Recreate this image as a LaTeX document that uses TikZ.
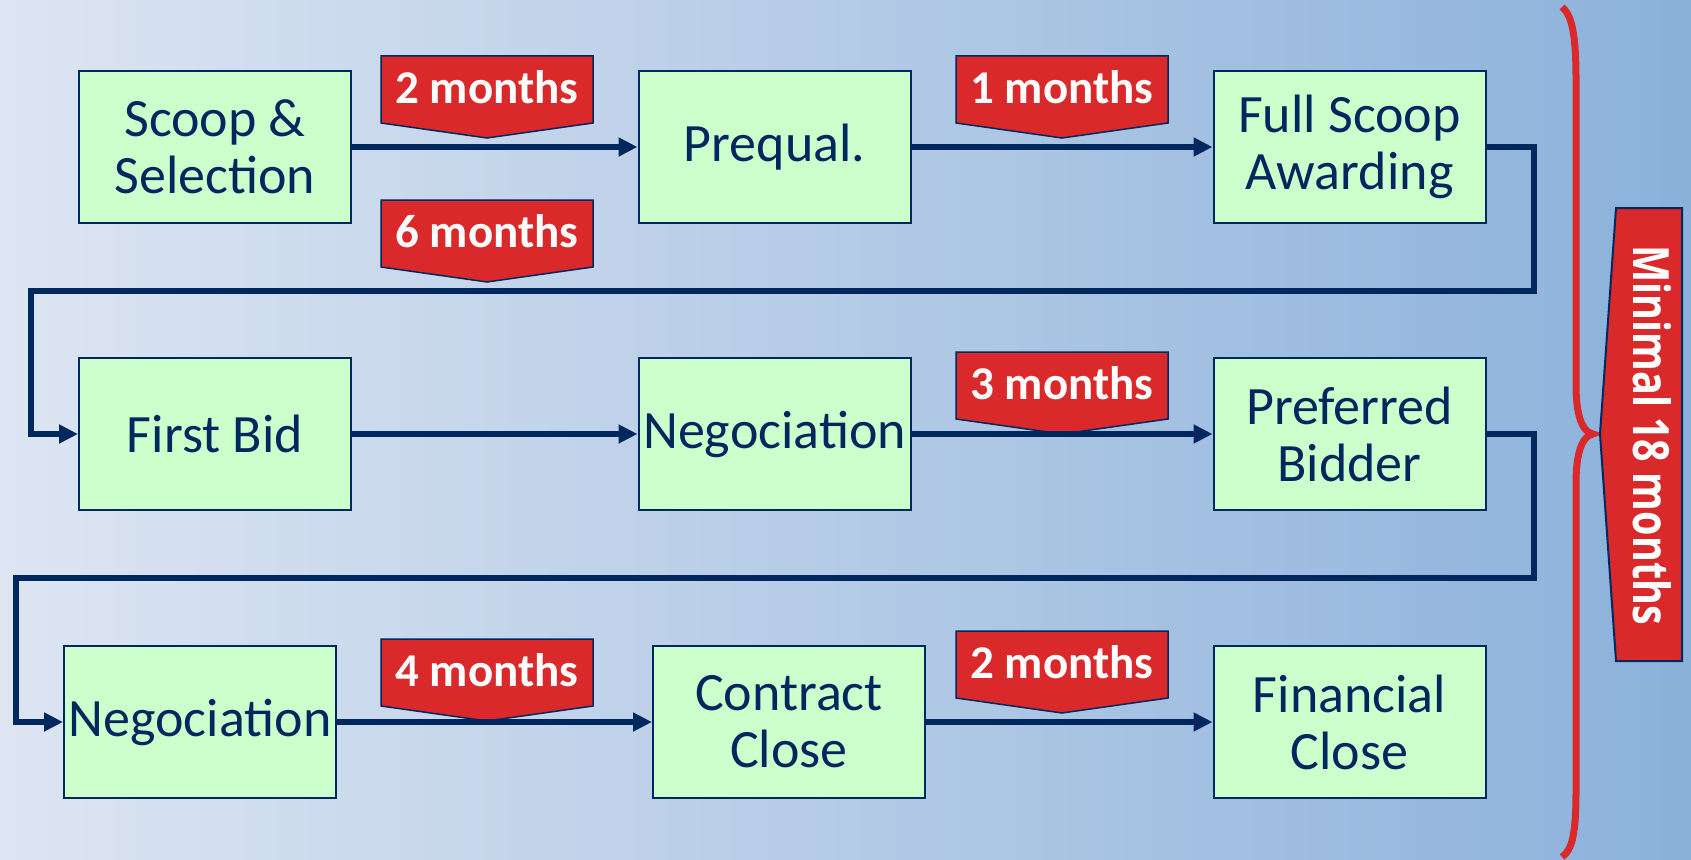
\documentclass[tikz,border=0pt]{standalone}
\usepackage{fontspec}
\setmainfont{Carlito}
\newfontfamily\minfont{Open Sans}
\usetikzlibrary{arrows.meta,calc}
\definecolor{navy}{RGB}{0,40,94}
\definecolor{boxgreen}{RGB}{204,255,204}
\definecolor{lblred}{RGB}{217,41,42}
\definecolor{bgL}{RGB}{221,229,242}
\definecolor{bgR}{RGB}{139,177,219}
\newcommand\mlabel[4]{%
  \draw[lblshape] (#2,#3) -- ++(212,0) -- ++(0,67) -- ++(-106,15) -- ++(-106,-15) -- cycle;
  \node[lbltext] (#1) at (#2+106,#3+47) {#4};}
\begin{document}
\begin{tikzpicture}[x=1pt,y=-1pt,
  stepbox/.style={draw=navy,line width=2pt,fill=boxgreen,minimum width=272pt,minimum height=152pt,inner sep=0pt,
    text=navy,align=center,font=\fontsize{54}{57}\selectfont},
  conn/.style={draw=navy,line width=6pt,-{Triangle[length=19pt,width=18pt]}},
  lblshape/.style={draw=navy,line width=1.5pt,fill=lblred},
  lbltext/.style={anchor=base,inner sep=0pt,text=white,font=\fontsize{47}{50}\selectfont\bfseries},
  bracestyle/.style={draw=lblred,line width=7pt},
]
\useasboundingbox (0,0) rectangle (1691,859);
\shade[left color=bgL,right color=bgR] (0,0) rectangle (1691,859);

% boxes
\node[stepbox] (scoop) at (215,147) {Scoop \&\\Selection};
\node[stepbox] (prequal) at (774.5,147) {Prequal.};
\node[stepbox] (full) at (1349.5,147) {Full Scoop\\Awarding};
\node[stepbox] (first) at (215,434) {First Bid};
\node[stepbox] (nego1) at (774.5,434) {Negociation};
\node[stepbox] (pref) at (1349.5,434) {Preferred\\Bidder};
\node[stepbox] (nego2) at (200,722) {Negociation};
\node[stepbox] (contract) at (789,722) {Contract\\Close};
\node[stepbox] (fin) at (1349.5,722) {Financial\\Close};

% labels
\mlabel{l1}{381}{56}{2 months}
\mlabel{l2}{956}{56}{1 months}
\mlabel{l3}{381}{200}{6 months}
\mlabel{l4}{956}{352}{3 months}
\mlabel{l5}{381}{639}{4 months}
\mlabel{l6}{956}{631}{2 months}

% connectors
\coordinate (r1) at (1534,291);
\coordinate (k1) at (31,291);
\coordinate (r2) at (1534,578);
\coordinate (k2) at (16,578);
\draw[conn] (scoop.east) -- (prequal.west);
\draw[conn] (prequal.east) -- (full.west);
\draw[conn] (full.east) -- (full.east -| r1) -- (r1) -- (k1) -- (k1 |- first.west) -- (first.west);
\draw[conn] (first.east) -- (nego1.west);
\draw[conn] (nego1.east) -- (pref.west);
\draw[conn] (pref.east) -- (pref.east -| r2) -- (r2) -- (k2) -- (k2 |- nego2.west) -- (nego2.west);
\draw[conn] (nego2.east) -- (contract.west);
\draw[conn] (contract.east) -- (fin.west);

% brace
\draw[bracestyle] (1562,7) .. controls (1572,15) and (1576,35) .. (1576,80) -- (1576,385)
  .. controls (1576,415) and (1582,432) .. (1593,434)
  .. controls (1582,436) and (1576,453) .. (1576,483) -- (1576,790)
  .. controls (1576,835) and (1572,850) .. (1562,857);

% minimal box
\draw[draw=navy,line width=2pt,fill=lblred] (1616,208) -- (1682,208) -- (1682,661) -- (1616,661) -- (1600,434) -- cycle;
\node[rotate=-90,inner sep=0pt,text=white] (minimal) at (1652,435)
  {\scalebox{0.79}[1]{\minfont\bfseries\fontsize{50}{52}\selectfont Minimal 18 months}};
\end{tikzpicture}
\end{document}
